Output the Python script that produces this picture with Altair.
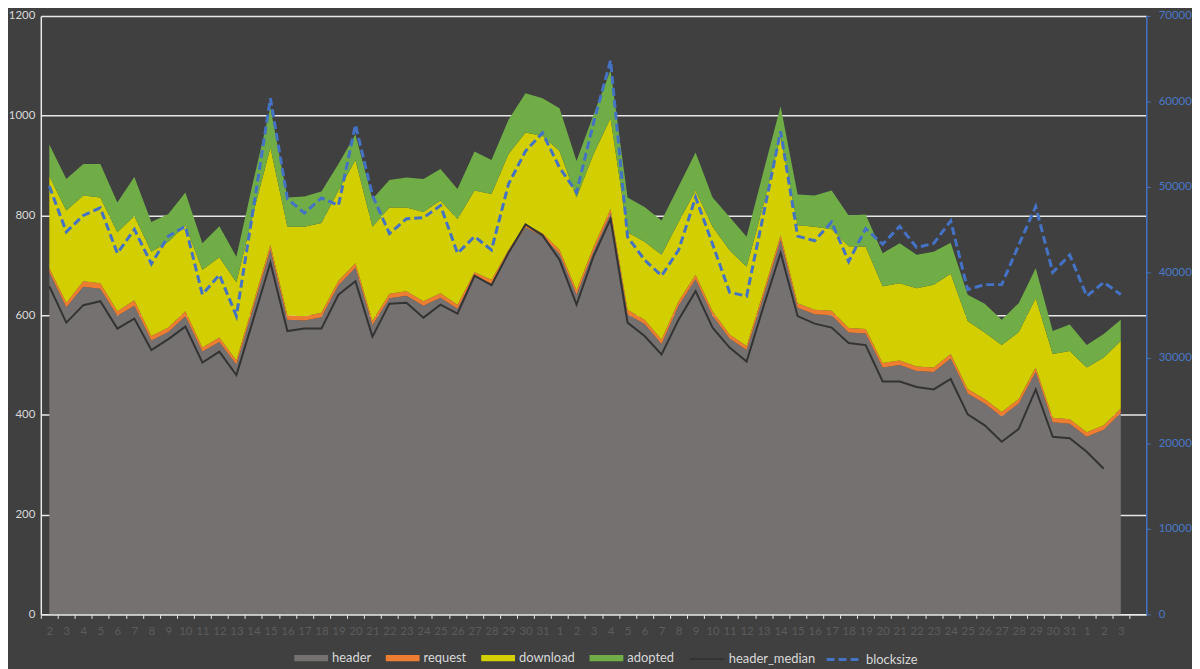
import altair as alt
import pandas as pd

labels = ["2","3","4","5","6","7","8","9","10","11","12","13","14","15","16","17","18","19","20","21",
          "22","23","24","25","26","27","28","29","30","31",
          "1","2","3","4","5","6","7","8","9","10","11","12","13","14","15","16","17","18","19","20",
          "21","22","23","24","25","26","27","28","29","30","31",
          "1","2","3"]

header = [686, 616, 657, 653, 599, 619, 549, 566, 598, 527, 546, 501, 616, 731, 591, 589, 596, 660, 695, 580,
          634, 639, 619, 635, 613, 678, 663, 724, 776, 758,
          723, 641, 728, 804, 602, 582, 542, 619, 672, 599, 553, 530, 639, 751, 615, 602, 600, 565, 563, 495,
          500, 488, 486, 513, 443, 423, 397, 423, 486, 385, 382,
          356, 370, 404]
request = [8, 9, 11, 11, 9, 11, 9, 9, 10, 8, 9, 8, 9, 10, 9, 9, 9, 9, 9, 8,
           9, 9, 9, 9, 8, 8, 8, 7, 6, 6,
           8, 9, 9, 9, 9, 9, 9, 9, 9, 9, 8, 8, 9, 9, 9, 9, 9, 9, 9, 9,
           9, 9, 9, 9, 9, 9, 9, 9, 9, 9, 9,
           9, 9, 9]
download = [185, 185, 172, 172, 158, 169, 169, 172, 172, 156, 161, 157, 180, 195, 177, 179, 180, 181, 207, 189,
            173, 168, 179, 186, 172, 164, 172, 192, 184, 195,
            198, 186, 186, 182, 155, 156, 170, 159, 169, 169, 169, 159, 175, 199, 156, 166, 163, 164, 165, 154,
            155, 157, 166, 161, 136, 133, 134, 134, 139, 128, 137,
            130, 136, 135]
adopted = [63, 63, 63, 67, 60, 78, 60, 56, 66, 53, 62, 51, 65, 80, 59, 61, 63, 53, 51, 56,
           55, 60, 66, 63, 60, 78, 68, 69, 79, 76,
           86, 73, 79, 96, 70, 70, 69, 71, 76, 59, 67, 60, 66, 60, 62, 63, 78, 62, 65, 66,
           80, 67, 66, 62, 53, 58, 51, 58, 60, 46, 53,
           45, 47, 43]
header_median = [658, 585, 620, 628, 573, 593, 530, 552, 577, 505, 527, 480, 592, 705, 568, 573, 573, 641, 668, 557,
                 623, 625, 595, 621, 603, 679, 660, 725, 782, 760,
                 711, 621, 718, 793, 585, 558, 521, 591, 648, 575, 535, 507, 618, 725, 598, 583, 575, 544, 540, 467,
                 467, 456, 451, 472, 401, 379, 346, 372, 451, 356, 353,
                 326, 292, None]
blocksize = [50100, 44740, 46660, 47550, 42230, 45040, 41000, 44240, 45390, 37410, 39720, 34900, 47500, 60360, 48600,
             46940, 48710, 47820, 57270, 49000, 44540, 46280, 46400, 47820, 42230, 44200, 42620, 50330, 54190, 56310,
             52260, 49360, 57500, 64790, 44160, 41460, 39610, 42600, 48790, 43300, 37680, 37220, 46860, 56500, 44240,
             43700, 45900, 41270, 45120, 43300, 45390, 42920, 43390, 46010, 37990, 38570, 38570, 43200, 47710, 40000,
             42040, 37220, 38840, 37410]

series = ["header", "request", "download", "adopted"]
colors = ["#767171", "#ED7D31", "#D2CE00", "#70AD47"]

rows = []
for i in range(len(labels)):
    for k, vals in enumerate([header, request, download, adopted]):
        rows.append({"i": i, "series": series[k], "k": k, "v": vals[i]})
area_df = pd.DataFrame(rows)
med_df = pd.DataFrame([{"i": i, "v": v, "s": "header_median"} for i, v in enumerate(header_median) if v is not None])
bs_df = pd.DataFrame([{"i": i, "v": v, "s": "blocksize"} for i, v in enumerate(blocksize)])

W = 1112
H = 602
slots = len(labels) + 1
half = W / slots / 2
FONT = "Lato"

xscale = alt.Scale(domain=[-0.5, slots - 0.5], nice=False, zero=False)
label_js = "[" + ",".join("'%s'" % l for l in labels) + "]"


def xaxis():
    return alt.Axis(values=list(range(slots)), tickOffset=-half, labelOffset=half,
                    labelExpr="datum.value < %d ? %s[datum.value] : ''" % (len(labels), label_js),
                    grid=False, domainColor="#e8e8e8", domainWidth=1.5, tickColor="#e8e8e8", tickSize=4,
                    labelColor="#5c5c5c", labelFontSize=11.5, labelFont=FONT, labelPadding=7, labelAngle=0,
                    labelOverlap=False, labelFlush=False, orient="bottom", title=None)


legend_common = dict(orient="none", direction="horizontal", title=None, labelColor="#d9d9d9",
                     labelFontSize=13, labelFont=FONT, columnPadding=14, labelOffset=4)

areas = alt.Chart(area_df).mark_area(opacity=1).encode(
    x=alt.X("i:Q", scale=xscale, axis=xaxis()),
    y=alt.Y("v:Q", stack="zero", scale=alt.Scale(domain=[0, 1200], nice=False),
            axis=alt.Axis(values=list(range(0, 1201, 200)), format="d", grid=True, gridColor="#e8e8e8",
                          gridWidth=1.5, domain=True, domainColor="#e8e8e8", domainWidth=1.5, ticks=False,
                          labelColor="#d9d9d9", labelFontSize=11.5, labelFont=FONT, labelPadding=6,
                          orient="left", title=None)),
    color=alt.Color("series:N", scale=alt.Scale(domain=series, range=colors),
                    legend=alt.Legend(symbolType="M-1,-0.18H1V0.18H-1Z", symbolSize=1156,
                                      symbolStrokeWidth=0, legendX=255, legendY=629, **legend_common)),
    order=alt.Order("k:Q"),
)

med = alt.Chart(med_df).mark_line(strokeWidth=2).encode(
    x=alt.X("i:Q", scale=xscale, axis=xaxis()),
    y=alt.Y("v:Q", scale=alt.Scale(domain=[0, 1200], nice=False), axis=None),
    color=alt.Color("s:N", scale=alt.Scale(domain=["header_median"], range=["#333333"]),
                    legend=alt.Legend(symbolType="stroke", symbolSize=1156, symbolStrokeWidth=2,
                                      legendX=652, legendY=629, **legend_common)),
)

bs = alt.Chart(bs_df).mark_line(strokeWidth=3, strokeDash=[8, 4]).encode(
    x=alt.X("i:Q", scale=xscale, axis=xaxis()),
    y=alt.Y("v:Q", scale=alt.Scale(domain=[0, 70000], nice=False),
            axis=alt.Axis(orient="right", values=list(range(0, 70001, 10000)), format="d", grid=False,
                          domainColor="#4472C4", domainWidth=1.5, tickColor="#4472C4", tickSize=4,
                          labelColor="#4a78c8", labelFontSize=11.5, labelFont=FONT, labelPadding=8,
                          title=None)),
    color=alt.Color("s:N", scale=alt.Scale(domain=["blocksize"], range=["#4472C4"]),
                    legend=alt.Legend(symbolType="stroke", symbolSize=1156, symbolStrokeWidth=3,
                                      symbolDash=[8, 4], legendX=789, legendY=629, **legend_common)),
)

chart = alt.layer(areas, med, bs).resolve_scale(
    x="shared", y="independent", color="independent"
).resolve_axis(x="shared").properties(
    width=W, height=H, background="#404040",
    padding={"left": 0, "top": 0, "right": 0, "bottom": 0},
).configure_view(strokeWidth=0)

chart.save("out.html", embed_options={"renderer": "svg", "actions": False})
